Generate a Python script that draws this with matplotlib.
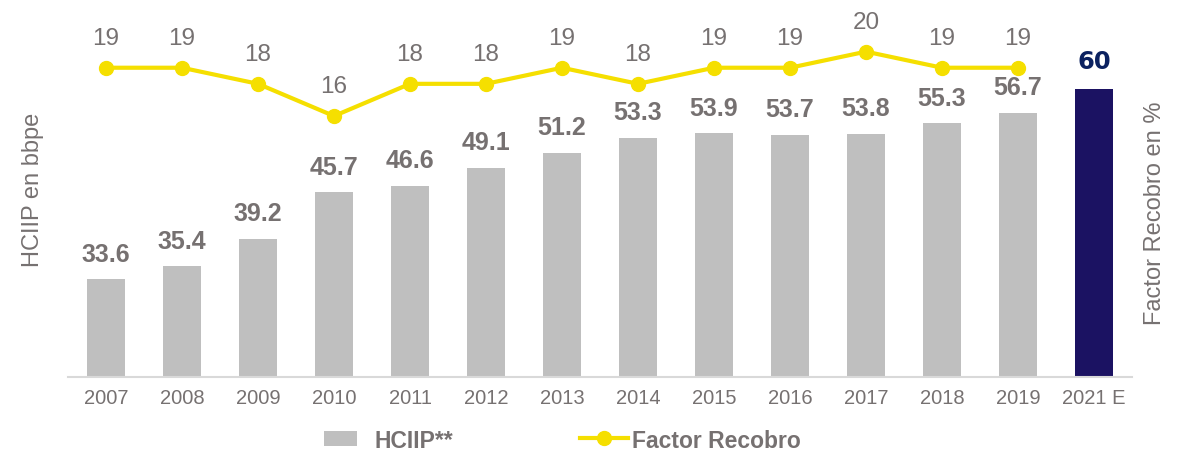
import matplotlib
matplotlib.use("Agg")
import matplotlib.pyplot as plt
from matplotlib.patches import Rectangle
from matplotlib.lines import Line2D

plt.rcParams['font.family'] = ['Liberation Sans', 'DejaVu Sans']

# ---- data ----
years = ["2007", "2008", "2009", "2010", "2011", "2012", "2013", "2014",
         "2015", "2016", "2017", "2018", "2019", "2021 E"]
hciip = [33.6, 35.4, 39.2, 45.7, 46.6, 49.1, 51.2, 53.3, 53.9, 53.7, 53.8,
         55.3, 56.7, 60]
recobro_years = years[:13]
recobro = [19, 19, 18, 16, 18, 18, 19, 18, 19, 19, 20, 19, 19]

# ---- styles ----
W, H = 1183, 451
GRAY_BAR = "#BFBFBF"
NAVY_BAR = "#1B1262"
NAVY_TXT = "#0B2160"
TXT = "#767171"
YELLOW = "#F5DF00"
AXLINE = "#D9D9D9"

fig = plt.figure(figsize=(W / 100, H / 100), dpi=100)

def fx(px):
    return px / W

def fy(py):
    return 1 - py / H

left, right, top, bottom = 68, 1132, 17.5, 377
ax = fig.add_axes([fx(left), fy(bottom), fx(right - left), (bottom - top) / H])
ax2 = ax.twinx()

x = list(range(len(years)))
colors = [GRAY_BAR] * (len(years) - 1) + [NAVY_BAR]
bars = ax.bar(x, hciip, width=0.5, color=colors, bottom=0, zorder=2)
ax.set_ylim(20, 70)
ax.set_xlim(-0.5, len(years) - 0.5)

for xi, v in zip(x, hciip):
    last = xi == len(years) - 1
    if last:
        ax.annotate(f"{v:g}", (xi, v), xytext=(0, 14.4),
                    textcoords="offset points", ha="center", va="baseline",
                    fontsize=17.5, fontweight="heavy", family="DejaVu Sans",
                    color=NAVY_TXT)
    else:
        ax.annotate(f"{v:.1f}", (xi, v), xytext=(0, 12.7),
                    textcoords="offset points", ha="center", va="baseline",
                    fontsize=18, fontweight="bold", color=TXT)

xl = list(range(len(recobro_years)))
ax2.plot(xl, recobro, color=YELLOW, lw=3, marker="o", markersize=10,
         zorder=3)
ax2.set_ylim(-0.21, 22.12)
for xi, v in zip(xl, recobro):
    ax2.annotate(f"{v}", (xi, v), xytext=(0, 16.6), textcoords="offset points",
                 ha="center", va="baseline", fontsize=17.5, color=TXT)

for a in (ax, ax2):
    for s in ("top", "right", "left"):
        a.spines[s].set_visible(False)
    a.set_yticks([])
ax2.spines["bottom"].set_visible(False)
ax.spines["bottom"].set_color(AXLINE)
ax.spines["bottom"].set_linewidth(1.5)
ax.set_xticks(x)
ax.set_xticklabels(years, fontsize=14.5, color=TXT)
ax.tick_params(axis="x", length=0, pad=9)

fig.text(fx(33), fy(190), "HCIIP en bbpe", rotation=90, ha="center",
         va="center", fontsize=17, color=TXT)
fig.text(fx(1155), fy(213), "Factor Recobro en %", rotation=90, ha="center",
         va="center", fontsize=17, color=TXT)

# ---- legend ----
fig.add_artist(Rectangle((fx(324), fy(446)), fx(33), (446 - 431) / H,
                         transform=fig.transFigure, color=GRAY_BAR, lw=0))
fig.text(fx(374), fy(438.5), "HCIIP**", ha="left", va="center_baseline",
         fontsize=16.5, fontweight="bold", color=TXT)
fig.add_artist(Line2D([fx(580), fx(628)], [fy(438), fy(438)],
                      transform=fig.transFigure, color=YELLOW, lw=3))
fig.add_artist(Line2D([fx(604)], [fy(438)], transform=fig.transFigure,
                      color=YELLOW, marker="o", markersize=10, lw=0))
fig.text(fx(632), fy(438.5), "Factor Recobro", ha="left", va="center_baseline",
         fontsize=16.5, fontweight="bold", color=TXT)

fig.savefig("out.png", dpi=100)
